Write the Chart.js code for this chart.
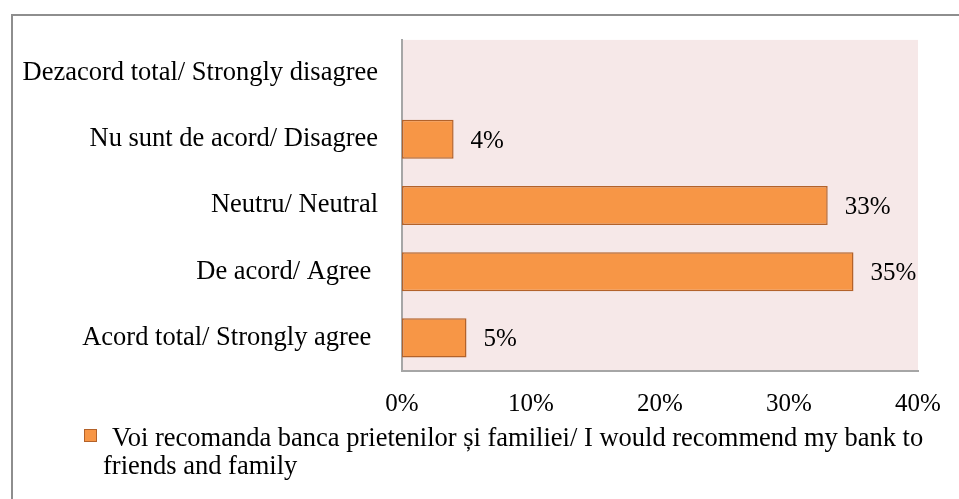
<!DOCTYPE html>
<html>
<head>
<meta charset="utf-8">
<title>Voi recomanda banca</title>
<script src="https://cdn.jsdelivr.net/npm/chart.js@4/dist/chart.umd.min.js"></script>
<style>
  html, body { margin: 0; padding: 0; background: #ffffff; }
  #wrap { width: 959px; height: 499px; position: relative; }
</style>
</head>
<body>
<div id="wrap"><canvas id="c" width="959" height="499"></canvas></div>
<script>
// Answer categories (top to bottom) and share of respondents, in percent
const categories = [
  'Dezacord total/ Strongly disagree',
  'Nu sunt de acord/ Disagree',
  'Neutru/ Neutral',
  'De acord/ Agree ',
  'Acord total/ Strongly agree '
];
const shares = [0, 4, 33, 35, 5];
const seriesName = 'Voi recomanda banca prietenilor și familiei/ I would recommend my bank to friends and family';
const xTicks = [0, 10, 20, 30, 40];

const SERIF = "'Liberation Serif', 'Times New Roman', serif";
const BAR_FILL = '#F79646';
const BAR_EDGE = '#B3622A';
const PLOT_BG = '#F6E8E8';
const AXIS_GREY = '#A6A6A6';

// Pink plot background and the outer frame
const backdrop = {
  id: 'backdrop',
  beforeDraw(chart) {
    const { ctx, chartArea: a } = chart;
    ctx.save();
    ctx.fillStyle = PLOT_BG;
    ctx.fillRect(a.left, a.top, a.right - a.left, a.bottom - a.top);
    ctx.strokeStyle = '#8E8E8E';
    ctx.lineWidth = 2;
    ctx.beginPath();
    ctx.moveTo(12, 499);
    ctx.lineTo(12, 15);
    ctx.lineTo(959, 15);
    ctx.stroke();
    ctx.restore();
  }
};

// Percentage labels to the right of each bar
const valueLabels = {
  id: 'valueLabels',
  afterDatasetsDraw(chart) {
    const { ctx } = chart;
    const meta = chart.getDatasetMeta(0);
    const values = chart.data.datasets[0].data;
    ctx.save();
    ctx.font = '25px ' + SERIF;
    ctx.fillStyle = '#000000';
    ctx.textAlign = 'left';
    ctx.textBaseline = 'middle';
    meta.data.forEach((bar, i) => {
      if (!values[i]) return;
      ctx.fillText(values[i] + '%', bar.x + 17, bar.y + 2);
    });
    ctx.restore();
  }
};

// Legend below the axis, wrapped onto two lines
const wrappedLegend = {
  id: 'wrappedLegend',
  afterDraw(chart) {
    const { ctx } = chart;
    const ds = chart.data.datasets[0];
    ctx.save();
    ctx.fillStyle = ds.backgroundColor;
    ctx.strokeStyle = ds.borderColor;
    ctx.lineWidth = 1;
    ctx.fillRect(84, 429, 12, 12);
    ctx.strokeRect(84.5, 429.5, 12, 12);
    ctx.font = '26.5px ' + SERIF;
    ctx.fillStyle = '#000000';
    ctx.textBaseline = 'alphabetic';
    const words = ds.label.split(' ');
    const lines = [];
    let cur = '';
    const firstX = 112, restX = 103, maxRight = 945;
    words.forEach(w => {
      const test = cur ? cur + ' ' + w : w;
      const x0 = lines.length ? restX : firstX;
      if (cur && x0 + ctx.measureText(test).width > maxRight) {
        lines.push(cur);
        cur = w;
      } else {
        cur = test;
      }
    });
    if (cur) lines.push(cur);
    lines.forEach((ln, i) => {
      ctx.fillText(ln, i ? restX : firstX, 446 + i * 28);
    });
    ctx.restore();
  }
};

new Chart(document.getElementById('c'), {
  type: 'bar',
  data: {
    labels: categories,
    datasets: [{
      label: seriesName,
      data: shares,
      backgroundColor: BAR_FILL,
      borderColor: BAR_EDGE,
      borderWidth: 1.5,
      borderSkipped: false,
      categoryPercentage: 0.59,
      barPercentage: 1.0
    }]
  },
  options: {
    indexAxis: 'y',
    responsive: false,
    animation: false,
    devicePixelRatio: 1,
    layout: { padding: { top: 39, right: 41, bottom: 0, left: 0 } },
    plugins: {
      legend: { display: false },
      tooltip: { enabled: false }
    },
    scales: {
      x: {
        min: 0,
        max: 40,
        afterBuildTicks(scale) {
          scale.ticks = xTicks.map(v => ({ value: v }));
        },
        afterFit(scale) { scale.height = 128; },
        grid: { display: false, drawTicks: false },
        border: { display: true, color: AXIS_GREY, width: 2 },
        ticks: {
          padding: 18,
          color: '#000000',
          font: { family: SERIF, size: 25 },
          maxRotation: 0,
          callback: v => v + '%'
        }
      },
      y: {
        afterFit(scale) { scale.width = 402; },
        grid: { display: false, drawTicks: false },
        border: { display: true, color: AXIS_GREY, width: 2 },
        ticks: {
          padding: 24,
          color: '#000000',
          font: { family: SERIF, size: 26.5 }
        }
      }
    }
  },
  plugins: [backdrop, valueLabels, wrappedLegend]
});
</script>
</body>
</html>
